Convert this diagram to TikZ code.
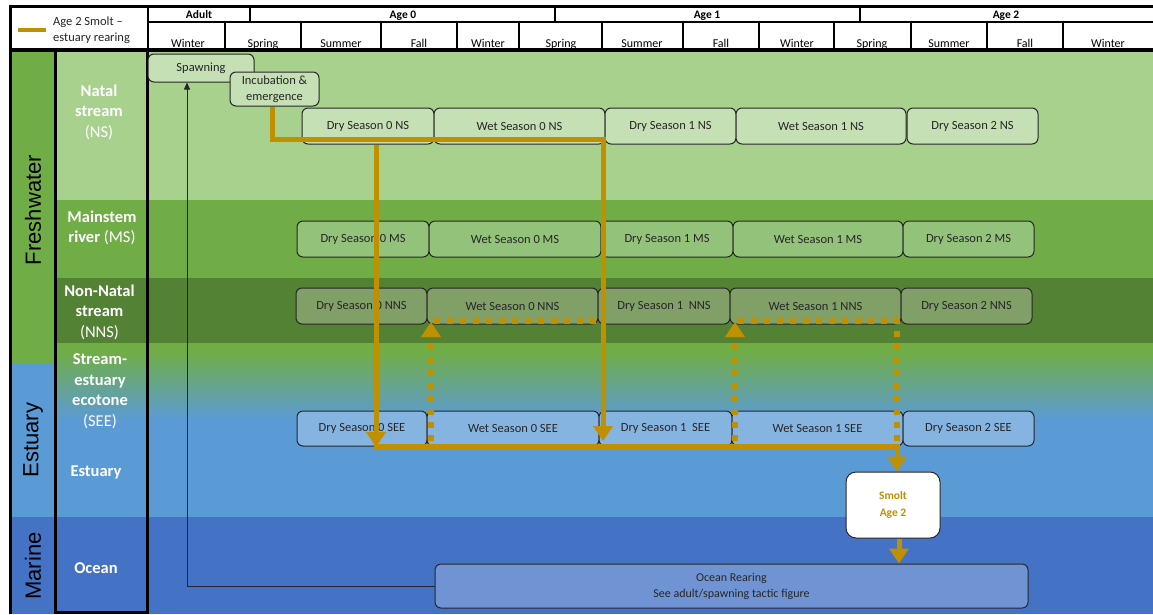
\documentclass[tikz,border=0pt]{standalone}
\usepackage{fontspec}
\setmainfont{Carlito}
\newfontfamily\arialf{Liberation Sans}
\usetikzlibrary{arrows.meta}
\definecolor{gold}{HTML}{BF9000}
\definecolor{natal}{HTML}{A9D18E}
\definecolor{msg}{HTML}{70AD47}
\definecolor{nnsg}{HTML}{548235}
\definecolor{estb}{HTML}{5B9BD5}
\definecolor{ocb}{HTML}{4472C4}
\definecolor{nsfill}{HTML}{C5E0B4}
\definecolor{msfill}{HTML}{93C37A}
\definecolor{nnsfill}{HTML}{80A068}
\definecolor{seefill}{HTML}{86B4E1}
\definecolor{ocfill}{HTML}{7094D3}
\definecolor{txt}{HTML}{262626}
\tikzset{
  sbox/.style={draw=black!85, line width=1pt, rounded corners=6pt, text=txt,
    font=\fontsize{12.5}{15}\selectfont, inner sep=0pt, align=center},
  nsb/.style={sbox, fill=nsfill, minimum height=36pt},
  msb/.style={sbox, fill=msfill, minimum height=36pt},
  nnsb/.style={sbox, fill=nnsfill, minimum height=36pt},
  seeb/.style={sbox, fill=seefill, minimum height=35pt},
  hlabel/.style={font=\bfseries\fontsize{11.5}{13}\selectfont, anchor=base, inner sep=0pt},
  slabel/.style={font=\fontsize{12}{14}\selectfont, anchor=base, inner sep=0pt},
  rowlabel/.style={text=white, font=\bfseries\fontsize{16.5}{20.5}\selectfont, align=center, inner sep=0pt},
  zonelabel/.style={rotate=90, font=\arialf\fontsize{22}{24}\selectfont, inner sep=0pt},
  goldline/.style={draw=gold, line width=5pt},
  dotline/.style={draw=gold, line width=5.5pt, dash pattern=on 6pt off 7pt},
  bigtip/.style={-{Triangle[width=19pt,length=15pt]}},
}
\begin{document}
\begin{tikzpicture}[x=1pt,y=-1pt]
\useasboundingbox (0,0) rectangle (1153,614);
\fill[white] (0,0) rectangle (1153,614);
% bands
\fill[natal] (55,50) rectangle (1153,200);
\fill[msg] (55,200) rectangle (1153,278);
\fill[nnsg] (55,278) rectangle (1153,343);
\fill[msg] (55,343) rectangle (1153,352);
\shade[top color=msg, bottom color=estb] (55,352) rectangle (1153,420);
\fill[estb] (55,420) rectangle (1153,517);
\fill[ocb] (55,517) rectangle (1153,614);
% zone column
\fill[msg] (10,50) rectangle (55,363);
\fill[estb] (10,363) rectangle (55,517);
\fill[ocb] (10,517) rectangle (55,614);
% header grid
\draw[line width=1.3pt] (148,22) -- (1153,22);
\foreach \x in {250,555,860} \draw[line width=1.3pt] (\x,6) -- (\x,22);
\draw[line width=1.3pt] (148,6) -- (148,50);
\foreach \x in {225,301,381,457,519,602,683,759,834,911,987,1063} \draw[line width=1.1pt] (\x,22) -- (\x,50);
\draw[line width=3pt] (10,6) -- (1153,6);
\draw[line width=4pt] (10,50) -- (1153,50);
\draw[line width=3pt] (10,4.5) -- (10,614);
\draw[line width=3pt] (55,50) rectangle (147,612);
% header labels
\node[hlabel] (hA) at (199,18) {Adult};
\node[hlabel] (h0) at (403,18) {Age 0};
\node[hlabel] (h1) at (707,18) {Age 1};
\node[hlabel] (h2) at (1006,18) {Age 2};
\node[slabel] (s1) at (188,47.5) {Winter};
\node[slabel] (s2) at (263,47.5) {Spring};
\node[slabel] (s3) at (341,47.5) {Summer};
\node[slabel] (s4) at (419,47.5) {Fall};
\node[slabel] (s5) at (488,47.5) {Winter};
\node[slabel] (s6) at (561,47.5) {Spring};
\node[slabel] (s7) at (642,47.5) {Summer};
\node[slabel] (s8) at (721,47.5) {Fall};
\node[slabel] (s9) at (797,47.5) {Winter};
\node[slabel] (s10) at (872,47.5) {Spring};
\node[slabel] (s11) at (949,47.5) {Summer};
\node[slabel] (s12) at (1025,47.5) {Fall};
\node[slabel] (s13) at (1108,47.5) {Winter};
% legend
\coordinate (lg1) at (18,30);
\coordinate (lg2) at (46,30);
\draw[draw=gold, line width=4pt] (lg1) -- (lg2);
\node[anchor=west, align=left, inner sep=0pt, text=txt, font=\fontsize{12.5}{16}\selectfont] (leg) at (53,30) {Age 2 Smolt --\\estuary rearing};
% zone labels
\node[zonelabel] (zfw) at (33,210) {Freshwater};
\node[zonelabel] (zes) at (33,440) {Estuary};
\node[zonelabel] (zma) at (33,566) {Marine};
% row labels
\node[rowlabel] (lns) at (99,112) {Natal\\stream\\{\mdseries (NS)}};
\node[rowlabel] (lms) at (102,228) {Mainstem\\river {\mdseries (MS)}};
\node[rowlabel] (lnns) at (99.5,312) {Non-Natal\\stream\\{\mdseries (NNS)}};
\node[rowlabel] (lsee) at (100,391) {Stream-\\estuary\\ecotone\\{\mdseries (SEE)}};
\node[rowlabel] (lest) at (96,472) {Estuary};
\node[rowlabel] (loc) at (96,568) {Ocean};
% boxes
\node[nsb, minimum width=106pt, minimum height=28pt] (spawn) at (201,68) {Spawning};
\node[nsb, minimum width=89pt, minimum height=34pt, font=\fontsize{12.5}{16}\selectfont] (inc) at (274.5,89) {Incubation \&\\emergence};
\node[nsb, minimum width=132pt] (dns0) at (368,126) {Dry Season 0 NS};
\node[nsb, minimum width=171pt] (wns0) at (519.5,126) {Wet Season 0 NS};
\node[nsb, minimum width=131pt] (dns1) at (670.5,126) {Dry Season 1 NS};
\node[nsb, minimum width=170pt] (wns1) at (821,126) {Wet Season 1 NS};
\node[nsb, minimum width=131pt] (dns2) at (972.5,126) {Dry Season 2 NS};
\node[msb, minimum width=132pt] (dms0) at (363,239) {Dry Season 0 MS};
\node[msb, minimum width=172pt] (wms0) at (515,239) {Wet Season 0 MS};
\node[msb, minimum width=132pt] (dms1) at (667,239) {Dry Season 1 MS};
\node[msb, minimum width=170pt] (wms1) at (818,239) {Wet Season 1 MS};
\node[msb, minimum width=131pt] (dms2) at (968.5,239) {Dry Season 2 MS};
\node[nnsb, minimum width=131pt] (dnns0) at (361.5,306) {Dry Season 0 NNS};
\node[nnsb, minimum width=171pt] (wnns0) at (512.5,306) {Wet Season 0 NNS};
\node[nnsb, minimum width=132pt] (dnns1) at (664,306) {Dry Season 1\ \ NNS};
\node[nnsb, minimum width=171pt] (wnns1) at (815.5,306) {Wet Season 1 NNS};
\node[nnsb, minimum width=131pt] (dnns2) at (966.5,306) {Dry Season 2 NNS};
\node[seeb, minimum width=130pt] (dsee0) at (362,428.5) {Dry Season 0 SEE};
\node[seeb, minimum width=172pt] (wsee0) at (513,428.5) {Wet Season 0 SEE};
\node[seeb, minimum width=133pt] (dsee1) at (665.5,428.5) {Dry Season 1\ \ SEE};
\node[seeb, minimum width=171pt] (wsee1) at (817.5,428.5) {Wet Season 1 SEE};
\node[seeb, minimum width=131pt] (dsee2) at (968.5,428.5) {Dry Season 2 SEE};
\node[sbox, fill=white, rounded corners=10pt, minimum width=94pt, minimum height=66pt, text=gold, font=\bfseries\fontsize{11.5}{17}\selectfont] (smolt) at (893,505) {Smolt\\Age 2};
\node[sbox, fill=ocfill, minimum width=593pt, minimum height=44pt, font=\fontsize{12}{16}\selectfont] (ocean) at (731.5,586) {Ocean Rearing\\See adult/spawning tactic figure};
% thin return arrow
\coordinate (r1) at (187,586);
\draw[line width=0.8pt, draw=black!85, -{Triangle[width=6pt,length=7pt]}] (ocean.west) -- (r1) -- (r1 |- spawn.south);
% solid gold paths
\coordinate (a1) at (272,139);
\coordinate (a2) at (603,139);
\coordinate (a3) at (603,441);
\draw[goldline, bigtip] (inc.south -| a1) -- (a1) -- (a2) -- (a3);
\coordinate (b1) at (376,145);
\coordinate (b2) at (376,447);
\draw[goldline, bigtip] (b1) -- (b2);
\coordinate (c0) at (374,446);
\coordinate (c1) at (897,446);
\draw[goldline, bigtip] (c0) -- (c1) -- (smolt.north -| c1);
\coordinate (e1) at (899,538);
\draw[goldline, bigtip] (smolt.south -| e1) -- (ocean.north -| e1);
% dotted gold paths
\coordinate (d1) at (431,441);
\coordinate (d2) at (431,322);
\draw[dotline, bigtip] (d1) -- (d2);
\coordinate (d3) at (434,321);
\coordinate (d4) at (597,321);
\draw[dotline] (d3) -- (d4);
\coordinate (f1) at (735,441);
\coordinate (f2) at (735,322);
\draw[dotline, bigtip] (f1) -- (f2);
\coordinate (f3) at (738,321);
\coordinate (f4) at (897,321);
\coordinate (f5) at (897,446);
\draw[dotline] (f3) -- (f4) -- (f5);
\end{tikzpicture}
\end{document}
